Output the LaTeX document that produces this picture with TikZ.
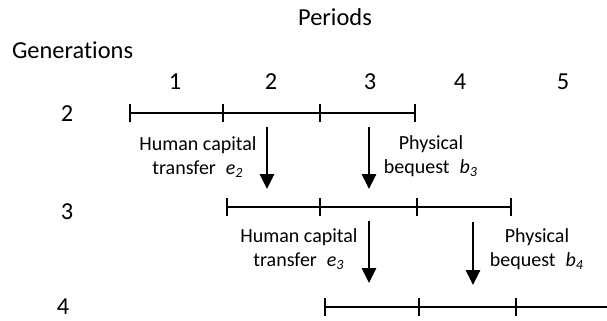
\documentclass[tikz,border=0pt]{standalone}
\usepackage{fontspec}
\setmainfont[Ligatures=CommonOff]{Carlito}
\usetikzlibrary{arrows.meta}

\begin{document}
\begin{tikzpicture}[x=0.5pt,y=-0.5pt,
  big/.style={font=\fontsize{12.2}{14}\selectfont},
  lbl/.style={align=center,font=\fontsize{10}{12}\selectfont},
  life/.style={line width=0.85pt},
  gift/.style={line width=1.4pt,-{Triangle[length=7.5pt,width=7pt]}}]
\useasboundingbox (0,0) rectangle (607,321);

% headings
\node[big] (periods) at (335,17) {Periods};
\node[big,anchor=west] (gens) at (5,50) {Generations};
\foreach \p/\x in {1/175,2/271,3/370,4/460,5/563}
  \node[big] (per\p) at (\x,82) {\p};

% generations and their lives
\node[big] (gen2) at (67,114) {2};
\node[big] (gen3) at (67,212) {3};
\node[big] (gen4) at (63,307) {4};

\draw[life] (130,113) -- (415,113);
\foreach \x in {130,223,320,415} \draw[life] (\x,104) -- (\x,122);

\draw[life] (227,207) -- (511,207);
\foreach \x in {227,320,417,511} \draw[life] (\x,198) -- (\x,216);

\draw[life] (325,307) -- (607,307);
\foreach \x in {325,419,516} \draw[life] (\x,298) -- (\x,316);

% transfers
\coordinate (e2top) at (267,127);
\coordinate (e2end) at (267,189);
\coordinate (b3top) at (369,127);
\coordinate (b3end) at (369,189);
\coordinate (e3top) at (369,221);
\coordinate (e3end) at (369,283);
\coordinate (b4top) at (473,222);
\coordinate (b4end) at (473,285);
\draw[gift] (e2top) -- (e2end);
\draw[gift] (b3top) -- (b3end);
\draw[gift] (e3top) -- (e3end);
\draw[gift] (b4top) -- (b4end);

\node[lbl] (e2) at (198,157) {Human capital\\transfer\enspace\textit{e}\textsubscript{\textit{2}}};
\node[lbl] (b3) at (431,156) {Physical\\bequest\enspace\textit{b}\textsubscript{\textit{3}}};
\node[lbl] (e3) at (299,249) {Human capital\\transfer\enspace\textit{e}\textsubscript{\textit{3}}};
\node[lbl] (b4) at (537,249) {Physical\\bequest\enspace\textit{b}\textsubscript{\textit{4}}};
\end{tikzpicture}
\end{document}
